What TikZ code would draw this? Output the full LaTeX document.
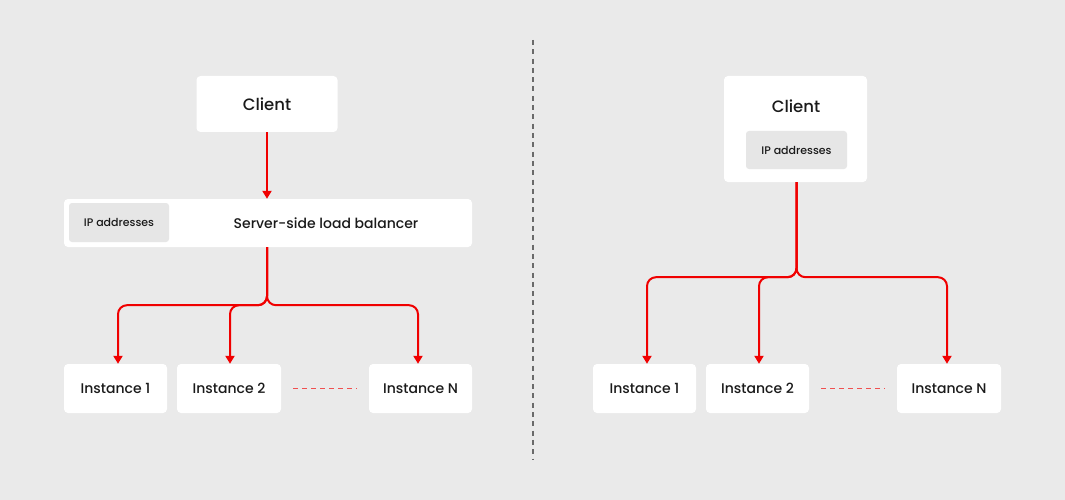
\documentclass[tikz,border=0pt]{standalone}
\usepackage{fontspec}
\setmainfont{Poppins}[UprightFont={* Medium}]
\usetikzlibrary{arrows.meta}
\definecolor{bg}{HTML}{EAEAEA}
\definecolor{ipgray}{HTML}{E6E6E6}
\definecolor{linered}{HTML}{F00000}
\definecolor{dashred}{HTML}{F05050}
\definecolor{txt}{HTML}{1A1A1A}
\definecolor{divider}{HTML}{6A6A6A}
\tikzset{
  box/.style={fill=white, rounded corners=4pt, inner sep=0pt, text=txt, font=\fontsize{14}{16}\selectfont},
  ipbox/.style={fill=ipgray, rounded corners=3pt, inner sep=0pt, text=txt, font=\fontsize{11}{13}\selectfont},
  plain/.style={inner sep=0pt, text=txt},
  arr/.style={draw=linered, line width=2pt, -{Triangle[width=9pt,length=8pt]}},
  fork/.style={arr, rounded corners=9pt},
  reddash/.style={draw=dashred, line width=1.2pt, dash pattern=on 5pt off 4pt},
  divline/.style={draw=divider, line width=1.6pt, dash pattern=on 5pt off 4.3pt}
}
\begin{document}
\begin{tikzpicture}[x=1pt,y=-1pt]
\fill[bg] (0,0) rectangle (1065,500);
\useasboundingbox (0,0) rectangle (1065,500);

% divider
\coordinate (dtop) at (533,40);
\coordinate (dbot) at (533,460);
\draw[divline] (dtop) -- (dbot);

% ---------- left ----------
\node[box, minimum width=141pt, minimum height=56pt, font=\fontsize{16.5}{18}\selectfont] (cl) at (267,104) {Client};
\node[box, minimum width=408pt, minimum height=48pt] (lb) at (268,223) {};
\node[ipbox, minimum width=100pt, minimum height=39pt] (ipl) at (119,222.5) {IP addresses};
\node[plain, font=\fontsize{14}{16}\selectfont] (lbt) at (326,223) {Server-side load balancer};

\node[box, minimum width=103pt, minimum height=49pt] (a1) at (115.5,388.5) {Instance 1};
\node[box, minimum width=104pt, minimum height=49pt] (a2) at (229,388.5) {Instance 2};
\node[box, minimum width=103pt, minimum height=49pt] (aN) at (420.5,388.5) {Instance N};

\draw[arr] (cl.south) -- (cl.south |- lb.north);
\draw[fork] (cl.south |- lb.south) -- ++(0,58) -| ([xshift=2.5pt]a1.north);
\draw[fork] (cl.south |- lb.south) -- ++(0,58) -| ([xshift=1pt]a2.north);
\draw[fork] (cl.south |- lb.south) -- ++(0,58) -| ([xshift=-2.5pt]aN.north);
\draw[reddash] ([xshift=12pt]a2.east) -- ([xshift=-12pt]aN.west);

% ---------- right ----------
\node[box, minimum width=143pt, minimum height=106pt] (cr) at (795.5,129) {};
\node[plain, font=\fontsize{16.5}{18}\selectfont] (crt) at (796,106) {Client};
\node[ipbox, minimum width=101pt, minimum height=38pt] (ipr) at (796.5,150) {IP addresses};

\node[box, minimum width=103pt, minimum height=49pt] (b1) at (644.5,388.5) {Instance 1};
\node[box, minimum width=103pt, minimum height=49pt] (b2) at (757.5,388.5) {Instance 2};
\node[box, minimum width=104pt, minimum height=49pt] (bN) at (949,388.5) {Instance N};

\draw[fork] ([xshift=1pt]cr.south) -- ++(0,95) -| ([xshift=2.5pt]b1.north);
\draw[fork] ([xshift=1pt]cr.south) -- ++(0,95) -| ([xshift=1.5pt]b2.north);
\draw[fork] ([xshift=1pt]cr.south) -- ++(0,95) -| ([xshift=-2pt]bN.north);
\draw[reddash] ([xshift=12pt]b2.east) -- ([xshift=-12pt]bN.west);
\end{tikzpicture}
\end{document}
